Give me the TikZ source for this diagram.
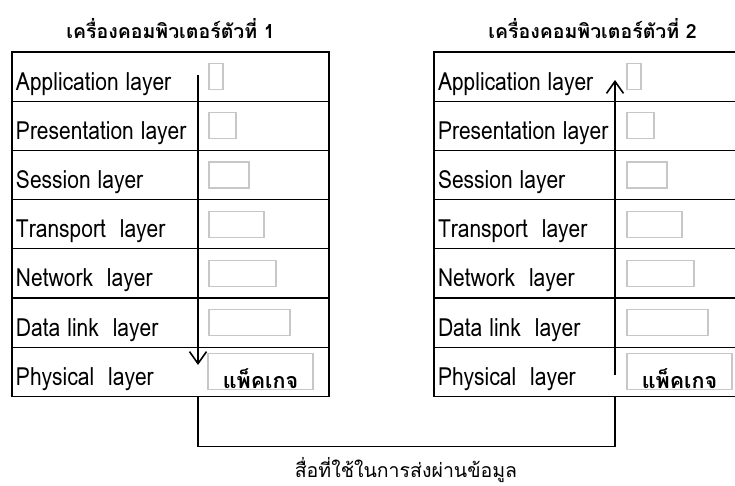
\documentclass[tikz,border=0pt]{standalone}
\usepackage{fontspec}
\setmainfont[Script=Thai]{Loma}
\newcommand\layername[1]{\scalebox{0.84}[1]{#1}}
\usetikzlibrary{positioning,arrows.meta}

\begin{document}
\begin{tikzpicture}[x=1pt, y=-1pt, node distance=0pt,
        layer/.style={draw, line width=1.2pt, outer sep=0pt, minimum height=49.2pt, text width=309pt, inner xsep=4pt, inner ysep=0pt, text height=27pt, text depth=0pt, align=left, font=\fontsize{25}{25}\selectfont},
        pkt/.style={draw=black!22, line width=1.2pt, outer sep=0pt, minimum height=26pt, inner sep=0pt, anchor=west},
        title/.style={inner sep=0pt, text depth=0pt, font=\bfseries\fontsize{19.5}{19.5}\selectfont},
        flow/.style={line width=1.3pt, -{Straight Barb[length=12pt,width=17pt,line width=1.6pt]}}
    ]
        \useasboundingbox (0,0) rectangle (735,486);
        \clip (0,0) rectangle (735,486);

        % Computer 1
        \node [layer, anchor=north west] (l1) at (12,52) {\layername{Application layer}};
        \node [layer, below=of l1] (l2) {\layername{Presentation layer}};
        \node [layer, below=of l2] (l3) {\layername{Session layer}};
        \node [layer, below=of l3] (l4) {\layername{Transport\ \ layer}};
        \node [layer, below=of l4] (l5) {\layername{Network\ \ layer}};
        \node [layer, below=of l5] (l6) {\layername{Data link\ \ layer}};
        \node [layer, below=of l6] (l7) {\layername{Physical\ \ layer}};
        \node [title, above=13pt of l1] (pc1) {เครื่องคอมพิวเตอร์ตัวที่ 1};

        % Computer 2
        \node [layer, anchor=north west] (r1) at (434,52) {\layername{Application layer}};
        \node [layer, below=of r1] (r2) {\layername{Presentation layer}};
        \node [layer, below=of r2] (r3) {\layername{Session layer}};
        \node [layer, below=of r3] (r4) {\layername{Transport\ \ layer}};
        \node [layer, below=of r4] (r5) {\layername{Network\ \ layer}};
        \node [layer, below=of r5] (r6) {\layername{Data link\ \ layer}};
        \node [layer, below=of r6] (r7) {\layername{Physical\ \ layer}};
        \node [title, above=13pt of r1] (pc2) {เครื่องคอมพิวเตอร์ตัวที่ 2};

        % Data units
        \foreach \i/\w in {1/14,2/27,3/40,4/55,5/67,6/81} {
            \node [pkt, minimum width=\w pt] (lp\i) at ([xshift=197pt]l\i.west) {};
            \node [pkt, minimum width=\w pt] (rp\i) at ([xshift=193pt]r\i.west) {};
        }
        \node [pkt, minimum width=105pt, minimum height=36pt, text height=33pt, text depth=0pt, font=\bfseries\fontsize{21.5}{21.5}\selectfont] (lp7) at ([xshift=196pt]l7.west) {แพ็คเกจ};
        \node [pkt, minimum width=105pt, minimum height=36pt, text height=33pt, text depth=0pt, font=\bfseries\fontsize{21.5}{21.5}\selectfont] (rp7) at ([xshift=193pt]r7.west) {แพ็คเกจ};

        % Flow through the layers
        \coordinate (down-top) at (198,75);
        \coordinate (down-end) at (198,365);
        \coordinate (up-start) at (615,375);
        \coordinate (up-end) at (615,80);
        \draw [flow] (down-top) -- (down-end);
        \draw [flow] (up-start) -- (up-end);

        % Medium
        \draw [line width=1.2pt] (down-end |- l7.south) -- ++(0,50) -| (up-start |- r7.south);
        \node [anchor=base, font=\fontsize{19.5}{19.5}\selectfont] (medium) at (406,477) {สื่อที่ใช้ในการส่งผ่านข้อมูล};

    \end{tikzpicture}
\end{document}
